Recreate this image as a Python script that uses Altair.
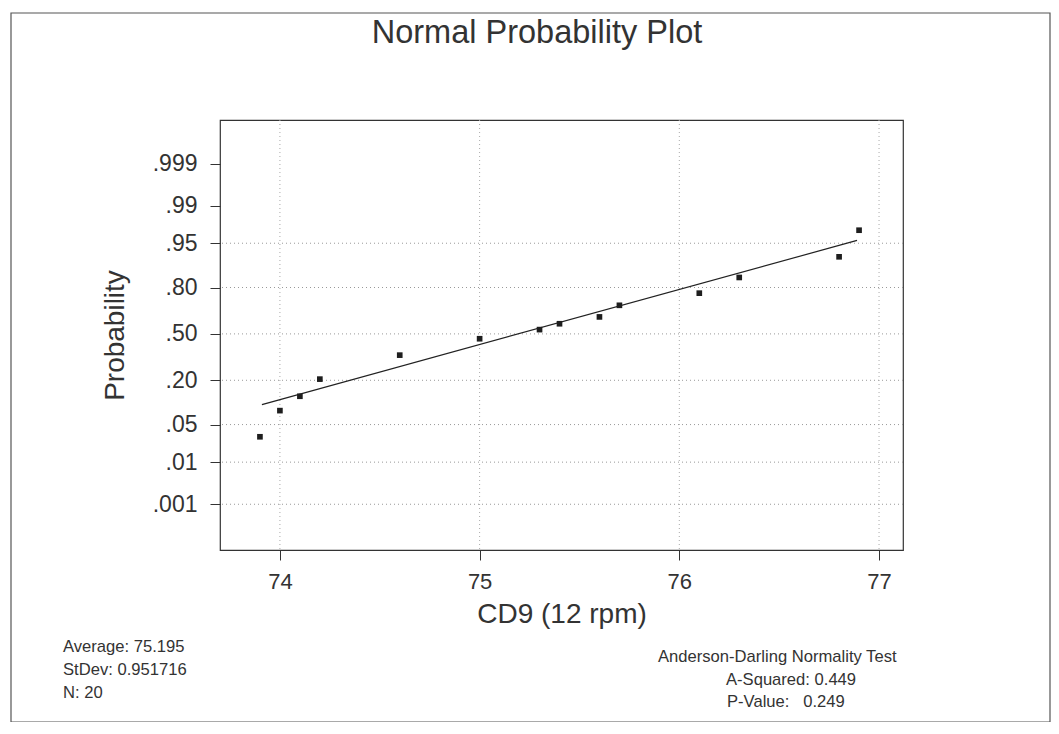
import altair as alt
import pandas as pd
from statistics import NormalDist

# ---------------- data ----------------
x_vals = [73.9, 74.0, 74.1, 74.2, 74.6, 75.0, 75.3, 75.4, 75.6, 75.7, 76.1, 76.3, 76.8, 76.9]
p_vals = [0.031, 0.082, 0.129, 0.206, 0.350, 0.465, 0.531, 0.573, 0.621, 0.698, 0.770, 0.847, 0.919, 0.970]

fit_x = [73.91, 76.89]
fit_p = [0.100, 0.955]

tick_p = [0.001, 0.01, 0.05, 0.20, 0.50, 0.80, 0.95, 0.99, 0.999]
tick_labels = [".001", ".01", ".05", ".20", ".50", ".80", ".95", ".99", ".999"]
grid_p = [0.001, 0.01, 0.05, 0.20, 0.50, 0.80, 0.95]
x_ticks = [74, 75, 76, 77]

title_text = "Normal Probability Plot"
x_title = "CD9 (12 rpm)"
y_title = "Probability"
stats_left = ["Average: 75.195", "StDev: 0.951716", "N: 20"]
stats_right = ["Anderson-Darling Normality Test", "A-Squared: 0.449",
               "P-Value:\u00a0\u00a0\u00a00.249"]

# ---------------- normal-probability (probit) transform ----------------
nd = NormalDist()
def probit(p):
    return nd.inv_cdf(p)

pts = pd.DataFrame({"x": x_vals, "z": [probit(p) for p in p_vals], "p": p_vals})
fit = pd.DataFrame({"x": fit_x, "z": [probit(p) for p in fit_p]})
tick_z = [probit(p) for p in tick_p]
hgrid_df = pd.DataFrame({"z": [probit(p) for p in grid_p]})
vgrid_df = pd.DataFrame({"x": x_ticks})

label_expr = "''"
for zz, lab in zip(tick_z, tick_labels):
    label_expr = f"abs(datum.value - ({zz:.5f})) < 0.01 ? '{lab}' : ({label_expr})"

FONT = "Liberation Sans"
TXT = "#333333"

xs = alt.Scale(domain=[73.70, 77.12], nice=False, zero=False)
ys = alt.Scale(domain=[-3.92, 3.88], nice=False, zero=False)

x_axis = alt.Axis(values=x_ticks, title=x_title, grid=False, domain=False,
                  tickSize=10, tickColor="#333333", tickWidth=1,
                  labelFontSize=22, labelPadding=11, labelColor=TXT, labelFont=FONT,
                  labelFlush=False, labelOverlap=False, format="d",
                  titleFontSize=28, titlePadding=8, titleColor=TXT, titleFont=FONT,
                  titleFontWeight="normal")
y_axis = alt.Axis(values=tick_z, labelExpr=label_expr, title=y_title, grid=False,
                  domain=False, tickSize=10, tickColor="#333333", tickWidth=1,
                  labelFontSize=23, labelPadding=13, labelColor=TXT, labelFont=FONT,
                  labelOverlap=False, labelFlush=False,
                  titleFontSize=28, titlePadding=23, titleColor=TXT, titleFont=FONT,
                  titleFontWeight="normal")

hgrid = alt.Chart(hgrid_df).mark_rule(color="#999999", strokeDash=[1, 3], strokeWidth=1).encode(
    y=alt.Y("z:Q", scale=ys, axis=y_axis))
vgrid = alt.Chart(vgrid_df).mark_rule(color="#aaaaaa", strokeDash=[1, 3], strokeWidth=1).encode(
    x=alt.X("x:Q", scale=xs, axis=x_axis))

points = alt.Chart(pts).mark_square(size=32, color="#1e1e1e", opacity=1).encode(
    x=alt.X("x:Q", scale=xs, axis=x_axis),
    y=alt.Y("z:Q", scale=ys, axis=y_axis),
)

line = alt.Chart(fit).mark_line(color="#222222", strokeWidth=1.2).encode(
    x=alt.X("x:Q", scale=xs, axis=x_axis),
    y=alt.Y("z:Q", scale=ys, axis=y_axis),
)

one = alt.Data(values=[{}])

def txt(s, x, y, size, align="left"):
    return alt.Chart(one).mark_text(text=s, fontSize=size, font=FONT, color=TXT,
                                    align=align, baseline="alphabetic").encode(
        x=alt.value(x), y=alt.value(y))

texts = [txt(title_text, 317, -77, 32.5, "center")]
for i, s in enumerate(stats_left):
    texts.append(txt(s, -157, 532 + 23 * i, 16.6))
texts.append(txt(stats_right[0], 438, 542, 16.6))
texts.append(txt(stats_right[1], 506, 565, 16.6))
texts.append(txt(stats_right[2], 507, 587, 16.6))

frame = alt.Chart(one).mark_rect(fillOpacity=0, stroke="#555555", strokeWidth=1.2).encode(
    x=alt.value(-209), x2=alt.value(830), y=alt.value(-107), y2=alt.value(602))

chart = alt.layer(frame, hgrid, vgrid, line, points, *texts).properties(
    width=683, height=430,
    padding={"left": 212, "top": 112, "right": 148, "bottom": 172},
    autosize=alt.AutoSizeParams(type="none"),
    background="white",
).configure_view(stroke="#333333", strokeWidth=1.2)

chart.save("out.html", embed_options={"renderer": "svg", "actions": False})
